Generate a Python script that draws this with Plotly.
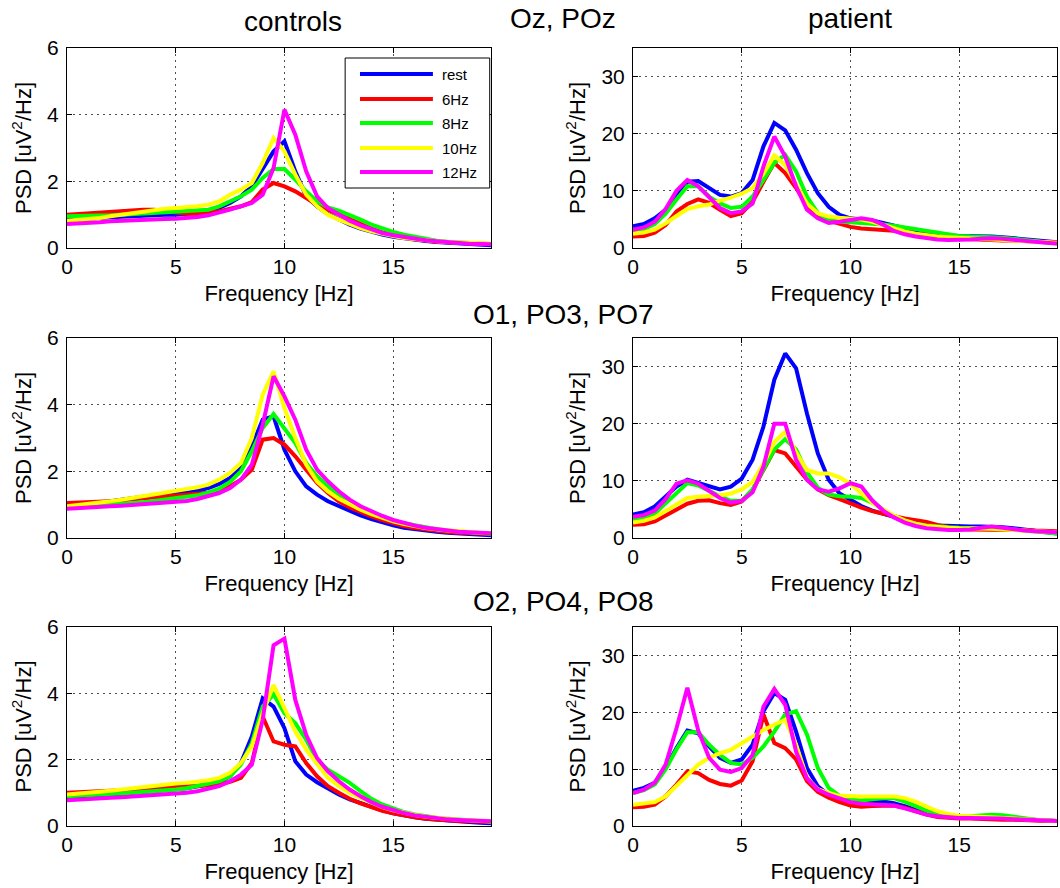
import plotly.graph_objects as go

# Frequency bins (Hz)
freq = [0, 0.5, 1, 1.5, 2, 2.5, 3, 3.5, 4, 4.5,
        5, 5.5, 6, 6.5, 7, 7.5, 8, 8.5, 9, 9.5,
        10, 10.5, 11, 11.5, 12, 12.5, 13, 13.5, 14, 14.5,
        15, 15.5, 16, 16.5, 17, 17.5, 18, 18.5, 19, 19.5]

conditions = ["rest", "6Hz", "8Hz", "10Hz", "12Hz"]
colors = ["#0000ff", "#ff0000", "#00ff00", "#ffff00", "#ff00ff"]

# ---- controls, Oz/POz ----
ctl_oz_rest = [0.85, 0.86, 0.88, 0.90, 0.92, 0.94, 0.96, 0.98, 1.00, 1.00,
               1.00, 1.02, 1.05, 1.10, 1.20, 1.35, 1.55, 1.85, 2.35, 2.90,
               3.20, 2.30, 1.55, 1.25, 1.02, 0.85, 0.70, 0.58, 0.48, 0.40,
               0.34, 0.29, 0.25, 0.21, 0.18, 0.16, 0.14, 0.12, 0.10, 0.08]
ctl_oz_6 = [1.00, 1.02, 1.04, 1.07, 1.10, 1.12, 1.14, 1.15, 1.15, 1.10,
            1.05, 1.03, 1.02, 1.05, 1.10, 1.18, 1.25, 1.38, 1.75, 1.95,
            1.85, 1.70, 1.50, 1.30, 1.15, 1.00, 0.85, 0.70, 0.58, 0.47,
            0.38, 0.31, 0.26, 0.22, 0.19, 0.17, 0.15, 0.14, 0.13, 0.12]
ctl_oz_8 = [0.95, 0.95, 0.96, 0.97, 0.98, 1.00, 1.02, 1.04, 1.06, 1.08,
            1.10, 1.10, 1.12, 1.15, 1.25, 1.40, 1.55, 1.75, 2.10, 2.37,
            2.37, 2.05, 1.70, 1.40, 1.22, 1.12, 1.00, 0.85, 0.70, 0.58,
            0.48, 0.40, 0.33, 0.27, 0.22, 0.19, 0.17, 0.15, 0.13, 0.12]
ctl_oz_10 = [0.82, 0.84, 0.87, 0.90, 0.95, 1.00, 1.05, 1.10, 1.15, 1.18,
             1.20, 1.22, 1.25, 1.30, 1.40, 1.60, 1.75, 1.95, 2.55, 3.30,
             2.90, 2.20, 1.60, 1.25, 1.00, 0.85, 0.72, 0.60, 0.50, 0.42,
             0.36, 0.30, 0.26, 0.22, 0.20, 0.18, 0.16, 0.15, 0.14, 0.13]
ctl_oz_12 = [0.72, 0.73, 0.75, 0.77, 0.80, 0.82, 0.84, 0.85, 0.86, 0.87,
             0.88, 0.90, 0.93, 0.98, 1.05, 1.15, 1.25, 1.35, 1.60, 2.40,
             4.15, 3.40, 2.30, 1.55, 1.20, 1.00, 0.82, 0.68, 0.55, 0.45,
             0.38, 0.32, 0.27, 0.23, 0.20, 0.17, 0.15, 0.13, 0.12, 0.11]

# ---- controls, O1/PO3/PO7 ----
ctl_o1_rest = [0.95, 0.98, 1.02, 1.06, 1.10, 1.15, 1.20, 1.24, 1.28, 1.30,
               1.32, 1.36, 1.42, 1.50, 1.62, 1.80, 2.10, 2.75, 3.55, 3.65,
               2.65, 2.00, 1.55, 1.30, 1.10, 0.95, 0.80, 0.68, 0.57, 0.47,
               0.38, 0.31, 0.26, 0.22, 0.19, 0.16, 0.14, 0.12, 0.10, 0.08]
ctl_o1_6 = [1.05, 1.06, 1.07, 1.08, 1.10, 1.13, 1.16, 1.19, 1.22, 1.25,
            1.27, 1.29, 1.32, 1.36, 1.42, 1.55, 1.75, 2.05, 2.95, 3.00,
            2.80, 2.45, 2.05, 1.65, 1.35, 1.10, 0.92, 0.78, 0.65, 0.54,
            0.44, 0.36, 0.30, 0.25, 0.21, 0.18, 0.16, 0.14, 0.13, 0.12]
ctl_o1_8 = [0.90, 0.92, 0.94, 0.96, 0.98, 1.01, 1.04, 1.07, 1.11, 1.15,
            1.18, 1.22, 1.28, 1.36, 1.48, 1.68, 2.00, 2.60, 3.30, 3.72,
            3.30, 2.85, 2.25, 1.85, 1.55, 1.30, 1.10, 0.92, 0.78, 0.65,
            0.53, 0.44, 0.37, 0.31, 0.26, 0.22, 0.19, 0.17, 0.15, 0.13]
ctl_o1_10 = [0.95, 0.98, 1.02, 1.06, 1.10, 1.15, 1.20, 1.25, 1.30, 1.36,
             1.42, 1.47, 1.52, 1.60, 1.75, 1.95, 2.25, 3.00, 4.30, 5.00,
             3.90, 3.00, 2.20, 1.70, 1.40, 1.18, 1.00, 0.85, 0.72, 0.60,
             0.50, 0.42, 0.35, 0.30, 0.26, 0.23, 0.20, 0.18, 0.16, 0.15]
ctl_o1_12 = [0.88, 0.89, 0.91, 0.93, 0.95, 0.97, 0.99, 1.00, 1.02, 1.04,
             1.07, 1.11, 1.17, 1.25, 1.35, 1.50, 1.75, 2.20, 3.40, 4.85,
             4.25, 3.55, 2.65, 2.05, 1.70, 1.40, 1.15, 0.95, 0.80, 0.66,
             0.54, 0.45, 0.37, 0.31, 0.26, 0.22, 0.19, 0.17, 0.15, 0.14]

# ---- controls, O2/PO4/PO8 ----
ctl_o2_rest = [0.85, 0.87, 0.89, 0.91, 0.94, 0.97, 1.00, 1.03, 1.06, 1.08,
               1.10, 1.14, 1.20, 1.26, 1.32, 1.50, 1.90, 2.70, 3.85, 3.60,
               2.95, 1.95, 1.55, 1.32, 1.12, 0.95, 0.80, 0.68, 0.57, 0.47,
               0.38, 0.31, 0.26, 0.22, 0.19, 0.16, 0.14, 0.12, 0.10, 0.08]
ctl_o2_6 = [1.00, 1.01, 1.02, 1.04, 1.06, 1.08, 1.10, 1.12, 1.15, 1.18,
            1.20, 1.20, 1.20, 1.22, 1.26, 1.33, 1.45, 1.90, 3.30, 2.55,
            2.45, 2.40, 1.90, 1.50, 1.20, 1.00, 0.82, 0.68, 0.56, 0.46,
            0.38, 0.31, 0.26, 0.22, 0.19, 0.17, 0.15, 0.14, 0.13, 0.12]
ctl_o2_8 = [0.90, 0.91, 0.92, 0.94, 0.96, 0.98, 1.00, 1.02, 1.04, 1.07,
            1.10, 1.14, 1.20, 1.27, 1.35, 1.50, 1.85, 2.50, 3.60, 3.97,
            3.40, 3.10, 2.60, 2.00, 1.70, 1.50, 1.30, 1.05, 0.82, 0.65,
            0.52, 0.42, 0.35, 0.29, 0.25, 0.22, 0.19, 0.17, 0.15, 0.13]
ctl_o2_10 = [0.95, 0.97, 1.00, 1.03, 1.06, 1.10, 1.15, 1.19, 1.22, 1.25,
             1.28, 1.30, 1.33, 1.38, 1.45, 1.60, 1.90, 2.40, 3.40, 4.25,
             3.55, 2.85, 2.30, 1.85, 1.45, 1.20, 1.00, 0.85, 0.70, 0.57,
             0.47, 0.39, 0.33, 0.28, 0.24, 0.21, 0.19, 0.17, 0.15, 0.14]
ctl_o2_12 = [0.78, 0.79, 0.81, 0.83, 0.85, 0.87, 0.89, 0.91, 0.92, 0.94,
             0.97, 1.00, 1.05, 1.12, 1.20, 1.35, 1.55, 1.85, 3.20, 5.45,
             5.65, 3.80, 2.75, 2.05, 1.65, 1.35, 1.10, 0.90, 0.72, 0.58,
             0.47, 0.39, 0.32, 0.27, 0.23, 0.20, 0.18, 0.16, 0.15, 0.14]

# ---- patient, Oz/POz ----
pat_oz_rest = [3.8, 4.2, 5.2, 6.7, 9.0, 11.6, 11.7, 10.5, 9.3, 9.0,
               9.6, 11.9, 17.8, 21.9, 20.6, 17.2, 13.1, 9.6, 7.2, 5.8,
               5.2, 5.0, 4.8, 4.4, 3.9, 3.4, 3.0, 2.7, 2.4, 2.2,
               2.1, 2.1, 2.1, 2.0, 1.9, 1.7, 1.5, 1.3, 1.1, 1.0]
pat_oz_6 = [2.0, 2.1, 2.7, 4.0, 6.4, 7.7, 8.5, 7.9, 6.7, 5.6,
            6.1, 8.1, 11.6, 14.9, 13.1, 10.5, 7.5, 5.5, 4.8, 4.2,
            3.7, 3.4, 3.3, 3.2, 3.0, 2.7, 2.4, 2.1, 1.9, 1.7,
            1.6, 1.5, 1.4, 1.4, 1.3, 1.3, 1.2, 1.1, 1.1, 1.0]
pat_oz_8 = [3.0, 3.3, 4.2, 6.0, 8.5, 10.8, 10.8, 9.0, 7.8, 7.0,
            7.2, 9.0, 11.9, 14.9, 16.3, 13.4, 9.0, 6.1, 4.9, 4.6,
            4.5, 4.4, 4.3, 4.1, 3.9, 3.6, 3.3, 3.0, 2.6, 2.3,
            2.1, 2.0, 2.0, 1.9, 1.8, 1.6, 1.4, 1.2, 1.0, 0.8]
pat_oz_10 = [2.5, 2.7, 3.2, 4.3, 5.6, 6.8, 7.3, 7.6, 8.3, 8.8,
             9.5, 10.5, 13.0, 16.2, 14.5, 11.3, 7.8, 6.1, 5.5, 5.3,
             5.2, 5.0, 4.6, 4.0, 3.4, 2.9, 2.5, 2.2, 2.0, 1.9,
             1.8, 1.7, 1.6, 1.5, 1.4, 1.3, 1.2, 1.1, 1.0, 0.9]
pat_oz_12 = [3.2, 3.6, 4.6, 6.8, 10.0, 11.9, 10.8, 9.0, 7.0, 6.1,
             6.4, 7.8, 14.3, 19.5, 16.0, 10.8, 6.7, 5.2, 4.4, 4.6,
             4.9, 5.2, 4.9, 4.1, 3.0, 2.4, 2.0, 1.7, 1.5, 1.4,
             1.4, 1.5, 1.6, 1.7, 1.6, 1.4, 1.2, 1.0, 0.9, 0.8]

# ---- patient, O1/PO3/PO7 ----
pat_o1_rest = [4.1, 4.5, 5.5, 7.2, 9.0, 10.2, 9.6, 9.0, 8.5, 9.0,
               10.4, 13.7, 19.5, 27.7, 32.3, 29.7, 21.8, 14.8, 10.2, 7.8,
               6.6, 5.6, 4.8, 4.2, 3.7, 3.2, 2.8, 2.5, 2.2, 2.1,
               2.0, 2.0, 2.0, 2.0, 1.9, 1.7, 1.5, 1.2, 1.0, 0.8]
pat_o1_6 = [2.3, 2.4, 2.9, 3.9, 4.9, 6.0, 6.5, 6.6, 6.1, 5.8,
            6.4, 8.4, 11.9, 15.4, 14.8, 12.5, 10.2, 8.5, 7.5, 6.8,
            6.0, 5.3, 4.7, 4.2, 3.8, 3.4, 3.1, 2.8, 2.3, 1.9,
            1.6, 1.5, 1.5, 1.4, 1.4, 1.4, 1.4, 1.3, 1.3, 1.2]
pat_o1_8 = [3.2, 3.5, 4.3, 6.0, 7.8, 9.6, 9.2, 8.2, 7.3, 6.5,
            6.5, 8.5, 12.0, 15.5, 17.3, 15.5, 11.5, 8.8, 7.6, 7.3,
            7.2, 7.0, 6.2, 5.0, 3.8, 3.0, 2.5, 2.2, 2.0, 1.9,
            1.8, 1.8, 1.8, 1.8, 1.7, 1.5, 1.3, 1.1, 1.0, 0.8]
pat_o1_10 = [2.7, 3.0, 3.6, 4.8, 6.0, 7.0, 7.2, 7.3, 7.5, 7.8,
             8.5, 9.8, 13.0, 16.8, 18.6, 15.0, 11.9, 11.3, 11.3, 10.6,
             9.5, 7.8, 6.2, 5.0, 3.9, 3.1, 2.5, 2.1, 1.9, 1.8,
             1.7, 1.7, 1.7, 1.6, 1.5, 1.4, 1.3, 1.2, 1.1, 1.0]
pat_o1_12 = [3.7, 4.0, 4.8, 6.8, 9.5, 10.1, 9.5, 8.2, 7.0, 6.2,
             6.5, 8.0, 12.5, 20.0, 20.0, 13.7, 10.2, 8.5, 8.1, 8.7,
             9.6, 9.0, 6.6, 4.8, 3.6, 2.7, 2.1, 1.7, 1.5, 1.4,
             1.4, 1.5, 1.8, 2.0, 1.8, 1.5, 1.3, 1.2, 1.1, 1.0]

# ---- patient, O2/PO4/PO8 ----
pat_o2_rest = [6.2, 6.7, 7.6, 10.2, 13.7, 16.8, 16.3, 14.0, 12.0, 11.1,
               11.7, 14.3, 20.2, 23.4, 22.2, 16.6, 10.2, 7.0, 5.5, 4.8,
               4.3, 4.2, 4.2, 4.3, 4.0, 3.5, 2.8, 2.2, 1.9, 1.7,
               1.5, 1.5, 1.5, 1.5, 1.4, 1.3, 1.2, 1.1, 1.0, 0.9]
pat_o2_6 = [3.3, 3.4, 3.75, 5.2, 7.3, 9.6, 9.3, 8.1, 7.4, 7.1,
            8.0, 11.4, 19.6, 14.6, 13.7, 11.7, 7.9, 6.0, 5.0, 4.2,
            3.6, 3.4, 3.5, 3.6, 3.6, 3.2, 2.6, 2.0, 1.6, 1.4,
            1.3, 1.3, 1.2, 1.2, 1.1, 1.1, 1.0, 1.0, 0.9, 0.9]
pat_o2_8 = [5.8, 6.3, 7.3, 10.0, 13.5, 16.5, 16.5, 14.3, 12.5, 11.1,
            10.8, 12.0, 14.0, 16.6, 19.6, 20.2, 16.1, 10.2, 6.7, 5.3,
            4.6, 4.5, 4.7, 4.9, 4.9, 4.3, 3.5, 2.7, 2.1, 1.8,
            1.6, 1.7, 1.9, 2.0, 1.9, 1.6, 1.3, 1.1, 1.0, 0.9]
pat_o2_10 = [3.75, 3.9, 4.2, 5.2, 7.0, 9.0, 10.8, 12.0, 12.8, 13.4,
             14.6, 15.8, 16.9, 17.8, 18.7, 14.3, 8.5, 6.5, 5.8, 5.3,
             5.2, 5.2, 5.2, 5.2, 5.2, 4.9, 4.3, 3.4, 2.6, 2.1,
             1.8, 1.7, 1.6, 1.5, 1.4, 1.3, 1.2, 1.1, 1.0, 0.9]
pat_o2_12 = [5.8, 6.4, 7.6, 10.8, 17.2, 24.3, 16.8, 12.0, 9.9, 9.5,
             10.2, 12.5, 21.0, 24.1, 21.3, 13.1, 8.4, 6.4, 5.5, 4.8,
             4.2, 3.9, 3.8, 3.8, 3.6, 3.1, 2.5, 2.0, 1.7, 1.5,
             1.4, 1.4, 1.4, 1.4, 1.3, 1.2, 1.1, 1.0, 0.9, 0.9]

# x/y axis suffixes: 1 = controls Oz, 2 = patient Oz, 3/4 = O1 row, 5/6 = O2 row
panels = [
    ("", [ctl_oz_rest, ctl_oz_6, ctl_oz_8, ctl_oz_10, ctl_oz_12]),
    ("2", [pat_oz_rest, pat_oz_6, pat_oz_8, pat_oz_10, pat_oz_12]),
    ("3", [ctl_o1_rest, ctl_o1_6, ctl_o1_8, ctl_o1_10, ctl_o1_12]),
    ("4", [pat_o1_rest, pat_o1_6, pat_o1_8, pat_o1_10, pat_o1_12]),
    ("5", [ctl_o2_rest, ctl_o2_6, ctl_o2_8, ctl_o2_10, ctl_o2_12]),
    ("6", [pat_o2_rest, pat_o2_6, pat_o2_8, pat_o2_10, pat_o2_12]),
]

FONT = "Liberation Sans, Arial, Helvetica, sans-serif"
W, H = 1060, 888

fig = go.Figure()
for suffix, series in panels:
    for name, color, vals in zip(conditions, colors, series):
        fig.add_trace(go.Scatter(
            x=freq, y=vals, mode="lines", name=name,
            line=dict(color=color, width=4),
            xaxis="x" + suffix, yaxis="y" + suffix,
            showlegend=False, hoverinfo="skip",
        ))

# pixel boxes of the six axes: (left, right) per column, (top, bottom) per row
col_px = [(67, 491), (633, 1057)]
row_px = [(48, 248), (338, 538), (627, 826)]

def xdom(c):
    return [col_px[c][0] / W, col_px[c][1] / W]

def ydom(r):
    return [1 - row_px[r][1] / H, 1 - row_px[r][0] / H]

common = dict(
    showline=True, linecolor="black", linewidth=1, mirror="ticks",
    ticks="inside", ticklen=5, tickcolor="black", tickwidth=1,
    showgrid=True, gridcolor="#505050", gridwidth=1, griddash="2px,4px",
    zeroline=False, automargin=False,
    tickfont=dict(family=FONT, size=21, color="black"),
)

layout = dict(
    width=W, height=H, margin=dict(l=0, r=0, t=0, b=0, autoexpand=False),
    paper_bgcolor="white", plot_bgcolor="white",
    font=dict(family=FONT, color="black"),
    showlegend=False,
)

idx = 0
for r in range(3):
    for c in range(2):
        suffix = "" if idx == 0 else str(idx + 1)
        xa = dict(common, domain=xdom(c), range=[0, 19.5],
                  tickvals=[0, 5, 10, 15], anchor="y" + suffix,
                  title=dict(text="Frequency [Hz]", standoff=8,
                             font=dict(family=FONT, size=22, color="black")))
        if c == 0:
            ya = dict(common, domain=ydom(r), range=[0, 6], tickvals=[0, 2, 4, 6])
        else:
            ya = dict(common, domain=ydom(r), range=[0, 35], tickvals=[0, 10, 20, 30])
        ya.update(anchor="x" + suffix, ticklabelstandoff=3,
                  title=dict(text="PSD [uV<sup>2</sup>/Hz]", standoff=9,
                             font=dict(family=FONT, size=22, color="black")))
        layout["xaxis" + suffix] = xa
        layout["yaxis" + suffix] = ya
        idx += 1

fig.update_layout(**layout)

# column and electrode-group headings
headings = [
    ("controls", 293, 21),
    ("patient", 850, 19),
    ("Oz, POz", 563, 19),
    ("O1, PO3, PO7", 563, 314),
    ("O2, PO4, PO8", 563, 601),
]
for text, px, py in headings:
    fig.add_annotation(text=text, x=px / W, y=1 - py / H, xref="paper", yref="paper",
                       showarrow=False, xanchor="center", yanchor="middle",
                       font=dict(family=FONT, size=28, color="black"))

# legend box inside the controls / Oz panel
fig.add_shape(type="rect", xref="x domain", yref="y domain",
              x0=0.656, x1=0.997, y0=0.30, y1=0.95,
              fillcolor="white", line=dict(color="black", width=1), layer="above")
entry_y = [0.87, 0.745, 0.625, 0.50, 0.38]
for name, color, ey in zip(conditions, colors, entry_y):
    fig.add_shape(type="line", xref="x domain", yref="y domain",
                  x0=0.691, x1=0.863, y0=ey, y1=ey,
                  line=dict(color=color, width=4), layer="above")
    fig.add_annotation(text=name, xref="x domain", yref="y domain",
                       x=0.880, y=ey, showarrow=False, xanchor="left", yanchor="middle",
                       font=dict(family=FONT, size=15, color="black"))

fig.write_html("out.html")
